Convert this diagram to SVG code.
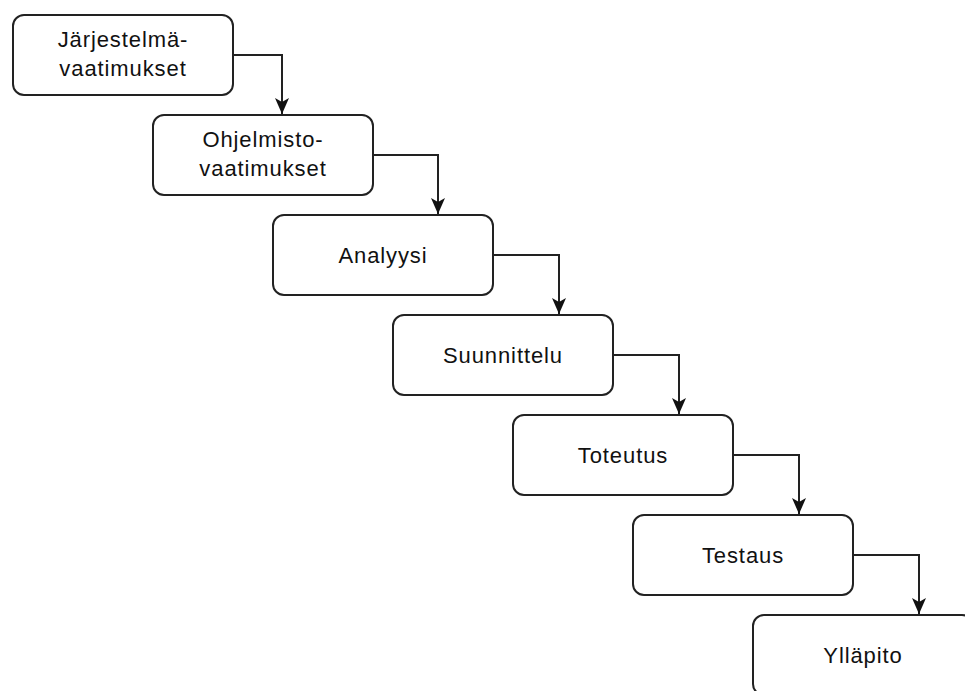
<svg xmlns="http://www.w3.org/2000/svg" width="965" height="691" viewBox="0 0 965 691">
  <defs>
    <marker id="arrow" viewBox="0 0 16 16" refX="16" refY="8" markerWidth="16" markerHeight="16" markerUnits="userSpaceOnUse" orient="auto">
      <path d="M0,1 L16,8 L0,15 L4,8 Z" fill="#111"/>
    </marker>
    <style>
      .box { fill: #ffffff; stroke: #222222; stroke-width: 2; }
      .label { font-family: "Liberation Sans", Arial, Helvetica, sans-serif; font-size: 22px; letter-spacing: 0.9px; fill: #111111; text-anchor: middle; }
      .edge { fill: none; stroke: #222222; stroke-width: 2; marker-end: url(#arrow); }
    </style>
  </defs>
  <rect width="965" height="691" fill="#ffffff"/>

  <!-- connectors -->
  <g id="connectors">
    <path class="edge" d="M233,55 H282 V114"/>
    <path class="edge" d="M373,155 H438 V214"/>
    <path class="edge" d="M493,255 H559 V314"/>
    <path class="edge" d="M613,355 H679 V414"/>
    <path class="edge" d="M733,455 H799 V514"/>
    <path class="edge" d="M853,555 H919 V614"/>
  </g>

  <!-- phases -->
  <g id="jarjestelmavaatimukset">
    <rect class="box" x="13" y="15" width="220" height="80" rx="11"/>
    <text class="label" x="123" y="47">Järjestelmä-</text>
    <text class="label" x="123" y="76">vaatimukset</text>
  </g>
  <g id="ohjelmistovaatimukset">
    <rect class="box" x="153" y="115" width="220" height="80" rx="11"/>
    <text class="label" x="263" y="147">Ohjelmisto-</text>
    <text class="label" x="263" y="176">vaatimukset</text>
  </g>
  <g id="analyysi">
    <rect class="box" x="273" y="215" width="220" height="80" rx="11"/>
    <text class="label" x="383" y="263">Analyysi</text>
  </g>
  <g id="suunnittelu">
    <rect class="box" x="393" y="315" width="220" height="80" rx="11"/>
    <text class="label" x="503" y="363">Suunnittelu</text>
  </g>
  <g id="toteutus">
    <rect class="box" x="513" y="415" width="220" height="80" rx="11"/>
    <text class="label" x="623" y="463">Toteutus</text>
  </g>
  <g id="testaus">
    <rect class="box" x="633" y="515" width="220" height="80" rx="11"/>
    <text class="label" x="743" y="563">Testaus</text>
  </g>
  <g id="yllapito">
    <rect class="box" x="753" y="615" width="220" height="80" rx="11"/>
    <text class="label" x="863" y="663">Ylläpito</text>
  </g>
</svg>
